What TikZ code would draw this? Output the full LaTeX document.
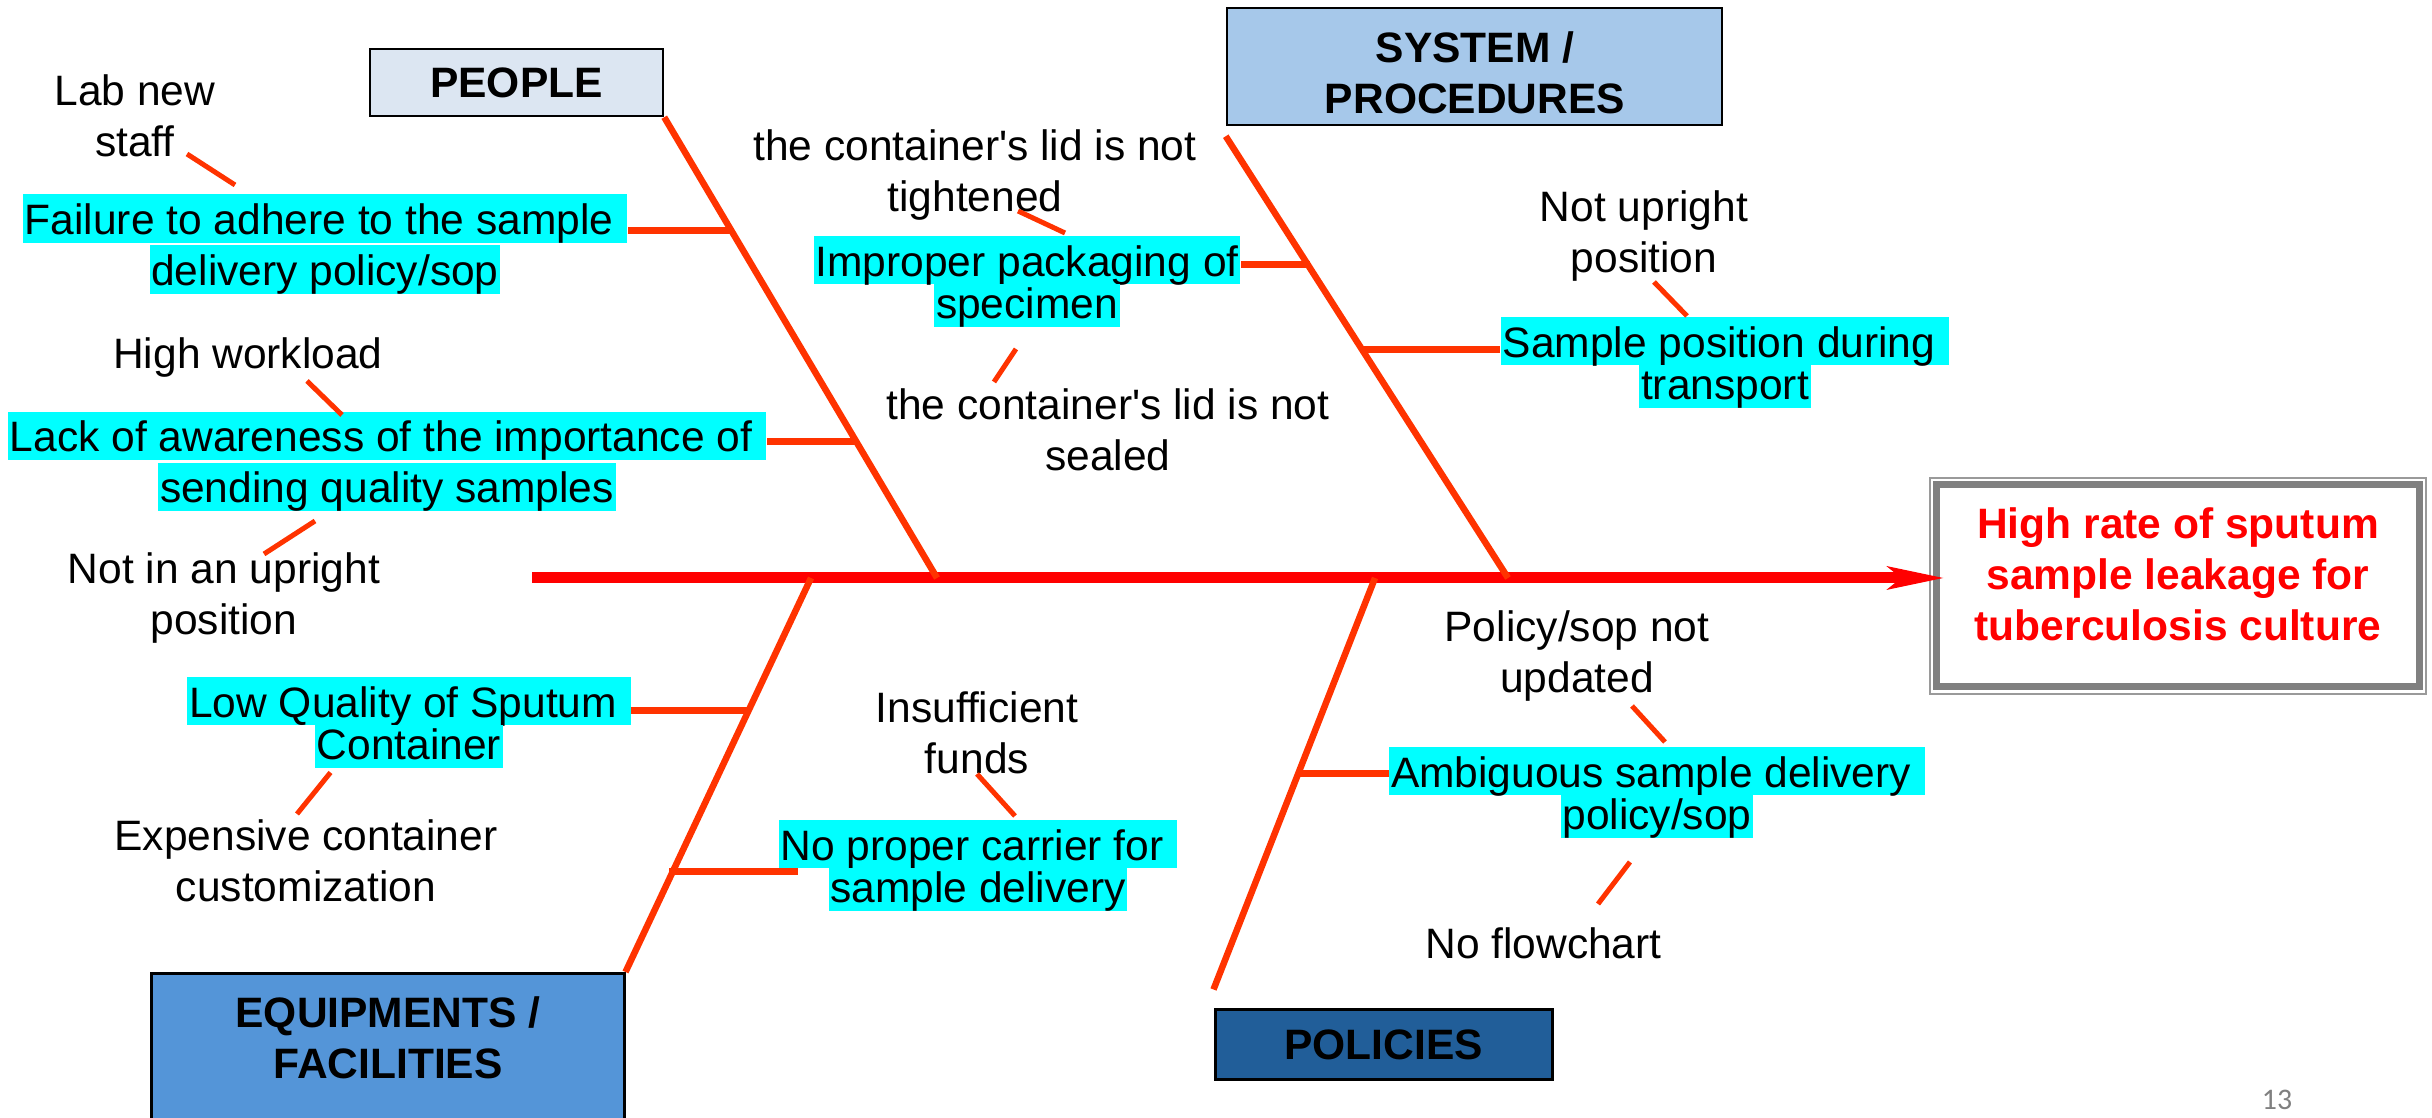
\documentclass[tikz,border=0pt]{standalone}
\usepackage{fontspec}
\setmainfont{Liberation Sans}
\newfontfamily\pagefont{Carlito}
\usepackage{xcolor}
\usetikzlibrary{positioning,arrows.meta}

\definecolor{bonered}{HTML}{FF3300}
\definecolor{spinered}{HTML}{FF0000}
\definecolor{hlcyan}{HTML}{00FFFF}
\definecolor{framegray}{HTML}{808080}
\definecolor{peoplefill}{HTML}{DCE6F2}
\definecolor{systemfill}{HTML}{A6C8EA}
\definecolor{equipfill}{HTML}{5495D8}
\definecolor{policyfill}{HTML}{215E99}

% cyan marker behind one line of text; the low one sits right under a line above it
\newcommand{\hilite}[1]{{\fboxsep=0.5pt\colorbox{hlcyan}{\rule[-1.8pt]{0pt}{12.7pt}\smash{#1}}}}
\newcommand{\hilitelow}[1]{{\fboxsep=0.5pt\colorbox{hlcyan}{\rule[-1.8pt]{0pt}{11.1pt}\smash{#1}}}}

\begin{document}
\begin{tikzpicture}[font=\fontsize{12.1}{14.5}\selectfont,
    catbox/.style={draw=black,line width=0.025cm,align=center,inner sep=0pt,
        font=\fontsize{12.1}{14.5}\selectfont\bfseries},
    cause/.style={align=center,inner sep=0pt},
    tightcause/.style={align=center,inner sep=0pt,font=\fontsize{12.1}{12.2}\selectfont},
    subcause/.style={align=center,inner sep=0pt}]
    \useasboundingbox (0,0) rectangle (24.32,11.18);

        % categories
        \node[catbox,fill=peoplefill,minimum width=2.93cm,minimum height=0.67cm] (people) at (5.165,10.355) {PEOPLE};
        \node[catbox,fill=systemfill,minimum width=4.95cm,minimum height=1.17cm] (system) at (14.745,10.515) {};
        \node[catbox,draw=none] (systxt) at (14.75,10.45) {SYSTEM /\\PROCEDURES};
        \node[catbox,fill=equipfill,line width=0.03cm,minimum width=4.725cm,minimum height=1.7cm,anchor=north] (equip) at (3.8775,1.46) {};
        \node[catbox,draw=none] (equiptxt) at (3.88,0.80) {EQUIPMENTS /\\FACILITIES};
        \node[catbox,fill=policyfill,line width=0.03cm,minimum width=3.37cm,minimum height=0.70cm] (policy) at (13.835,0.73) {POLICIES};

        % effect
        \node[draw=framegray,line width=0.07cm,minimum width=4.825cm,minimum height=2.02cm,inner sep=0pt,outer sep=0pt] (effect) at (21.78,5.32) {};
        \draw[framegray!80,line width=0.02cm] ([shift={(-0.07,0.07)}]effect.north west) rectangle ([shift={(0.07,-0.07)}]effect.south east);
        \node[align=center,text=spinered,font=\fontsize{12.1}{14.5}\selectfont\bfseries] (efftxt) at (21.78,5.44) {High rate of sputum\\sample leakage for\\tuberculosis culture};

        % causes
        \begin{scope}[every node/.style={cause}]
            \node (fail) at (3.25,8.74) {\hilite{Failure to adhere to the sample\ }\\\hilite{delivery policy/sop}};
            \node (aware) at (3.87,6.565) {\hilite{Lack of awareness of the importance of\ }\\\hilite{sending quality samples}};
        \end{scope}
        \begin{scope}[every node/.style={tightcause}]
            \node (pack) at (10.27,8.365) {\hilite{Improper packaging of}\\\hilitelow{specimen}};
            \node (pos) at (17.25,7.555) {\hilite{Sample position during\ }\\\hilitelow{transport}};
            \node (lowq) at (4.09,3.955) {\hilite{Low Quality of Sputum\ }\\\hilitelow{Container}};
            \node (carrier) at (9.78,2.525) {\hilite{No proper carrier for\ }\\\hilitelow{sample delivery}};
            \node (ambig) at (16.57,3.255) {\hilite{Ambiguous sample delivery\ }\\\hilitelow{policy/sop}};
        \end{scope}
        \begin{scope}[every node/.style={subcause}]
            \node (newstaff) at (1.35,10.02) {Lab new\\staff};
            \node (workload) at (2.48,7.60) {High workload};
            \node (upright) at (2.24,5.20) {Not in an upright\\position};
            \node (tightened) at (9.75,9.43) {the container\textquotesingle s lid is not\\tightened};
            \node (sealed) at (11.08,6.88) {the container\textquotesingle s lid is not\\sealed};
            \node (notupright) at (16.44,8.82) {Not upright\\position};
            \node (funds) at (9.77,3.85) {Insufficient\\funds};
            \node (costly) at (3.06,2.57) {Expensive container\\customization};
            \node (outdated) at (15.77,4.62) {Policy/sop not\\updated};
            \node (nochart) at (15.435,1.75) {No flowchart};
        \end{scope}

        % spine
        \coordinate (tail) at (5.32,5.40);
        \coordinate (j1) at (9.37,5.40);
        \coordinate (j2) at (15.08,5.40);
        \coordinate (j3) at (8.11,5.40);
        \coordinate (j4) at (13.75,5.40);
        \draw[spinered,line width=0.11cm,-{Stealth[length=0.57cm,width=0.24cm,inset=0.15cm,line width=0pt]},shorten >=-0.065cm] (tail) -- (tail -| effect.west);

        % bones
        \begin{scope}[every edge/.style={draw=bonered,line width=0.065cm}]
            \path [-] (people.south east) edge (j1);
            \path [-] ([yshift=-0.1cm]system.south west) edge (j2);
            \path [-] (equip.north east) edge (j3);
            \path [-] ([yshift=0.19cm]policy.north west) edge (j4);
        \end{scope}

        % twigs
        \coordinate (b1) at (7.31,8.87);
        \coordinate (b2) at (8.56,6.76);
        \coordinate (b3) at (13.095,8.53);
        \coordinate (b4) at (13.63,7.68);
        \coordinate (b5) at (7.47,4.07);
        \coordinate (b6) at (6.69,2.46);
        \coordinate (b7) at (12.99,3.44);
        \begin{scope}[every edge/.style={draw=bonered,line width=0.07cm}]
            \path [-] (b1) edge (b1 -| fail.east);
            \path [-] (b2) edge (b2 -| aware.east);
            \path [-] (b3) edge (b3 -| pack.east);
            \path [-] (b4) edge (b4 -| pos.west);
            \path [-] (b5) edge (b5 -| lowq.east);
            \path [-] (b6) edge ([xshift=0.2cm]b6 -| carrier.west);
            \path [-] (b7) edge (b7 -| ambig.west);
        \end{scope}

        % ticks
        \begin{scope}[every edge/.style={draw=bonered,line width=0.05cm}]
            \path [-] ([shift={(0.52,-0.38)}]newstaff.center) edge ([shift={(-0.90,0.59)}]fail.center);
            \path [-] ([shift={(0.59,-0.23)}]workload.center) edge ([shift={(-0.45,0.465)}]aware.center);
            \path [-] ([shift={(-0.72,-0.595)}]aware.center) edge ([shift={(0.40,0.44)}]upright.center);
            \path [-] ([shift={(0.43,-0.36)}]tightened.center) edge ([shift={(0.38,0.485)}]pack.center);
            \path [-] ([shift={(-0.11,-0.675)}]pack.center) edge ([shift={(-1.14,0.48)}]sealed.center);
            \path [-] ([shift={(0.10,-0.46)}]notupright.center) edge ([shift={(-0.38,0.465)}]pos.center);
            \path [-] ([shift={(-0.785,-0.50)}]lowq.center) edge ([shift={(-0.09,0.47)}]costly.center);
            \path [-] ([shift={(0,-0.41)}]funds.center) edge ([shift={(0.37,0.495)}]carrier.center);
            \path [-] ([shift={(0.55,-0.50)}]outdated.center) edge ([shift={(0.08,0.505)}]ambig.center);
            \path [-] ([shift={(-0.27,-0.695)}]ambig.center) edge ([shift={(0.545,0.39)}]nochart.center);
        \end{scope}

        \node[font=\pagefont\fontsize{8.5}{10}\selectfont,text=gray] (pageno) at (22.77,0.18) {13};
    \end{tikzpicture}
\end{document}
